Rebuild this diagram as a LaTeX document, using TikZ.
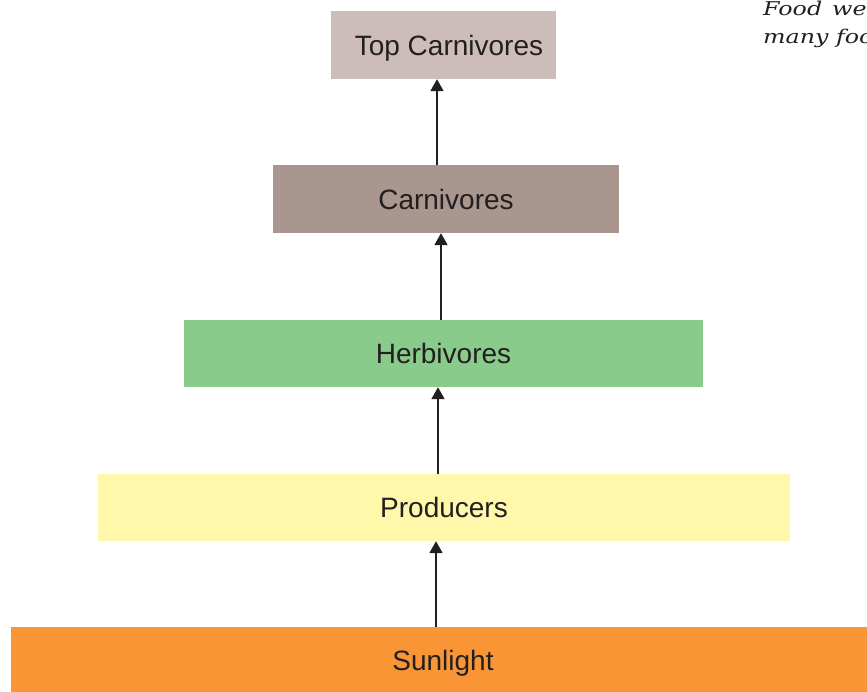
\documentclass[tikz,border=0pt]{standalone}
\usepackage{fontspec}
\setmainfont{Liberation Sans}
\newfontfamily\notefont[FakeStretch=1.25]{DejaVu Serif}
\usetikzlibrary{arrows.meta}
\definecolor{tccol}{RGB}{205,189,186}
\definecolor{ccol}{RGB}{169,150,143}
\definecolor{hcol}{RGB}{136,203,138}
\definecolor{pcol}{RGB}{255,248,170}
\definecolor{scol}{RGB}{249,149,53}
\definecolor{txt}{RGB}{35,31,32}
\tikzset{
  levelbox/.style={rectangle, draw=none, inner sep=0pt, text=txt,
    font=\fontsize{28}{32}\selectfont, text height=24pt, text depth=4pt},
  uparrow/.style={draw=txt, line width=1.8pt, -{Triangle[width=13pt,length=12pt]}},
  note/.style={anchor=base west, inner sep=0pt, text=txt, font=\notefont\itshape\fontsize{19}{24}\selectfont}
}
\begin{document}
\begin{tikzpicture}[x=1pt,y=-1pt]
\useasboundingbox (0,0) rectangle (867,691);
\clip (0,0) rectangle (867,691);
\node[levelbox, fill=tccol, minimum width=225pt, minimum height=68pt] (tc) at (443.5,45) {\hspace{11pt}Top Carnivores};
\node[levelbox, fill=ccol, minimum width=346pt, minimum height=68pt] (c) at (446,199) {Carnivores};
\node[levelbox, fill=hcol, minimum width=519pt, minimum height=67pt] (h) at (443.5,353.5) {Herbivores};
\node[levelbox, fill=pcol, minimum width=692pt, minimum height=67pt] (p) at (444,507.5) {Producers};
\node[levelbox, fill=scol, minimum width=864pt, minimum height=66pt] (s) at (443,660) {Sunlight};
\draw[uparrow] ([xshift=-7pt]s.north) -- ([xshift=-8pt]p.south);
\draw[uparrow] ([xshift=-6pt]p.north) -- ([xshift=-5.5pt]h.south);
\draw[uparrow] ([xshift=-2.5pt]h.north) -- ([xshift=-5pt]c.south);
\draw[uparrow] ([xshift=-9pt]c.north) -- ([xshift=-6.5pt]tc.south);
\node[note] (n1) at (763,15) {Food\hspace{10pt}we};
\node[note] (n2) at (763,43) {many foo};
\end{tikzpicture}
\end{document}
